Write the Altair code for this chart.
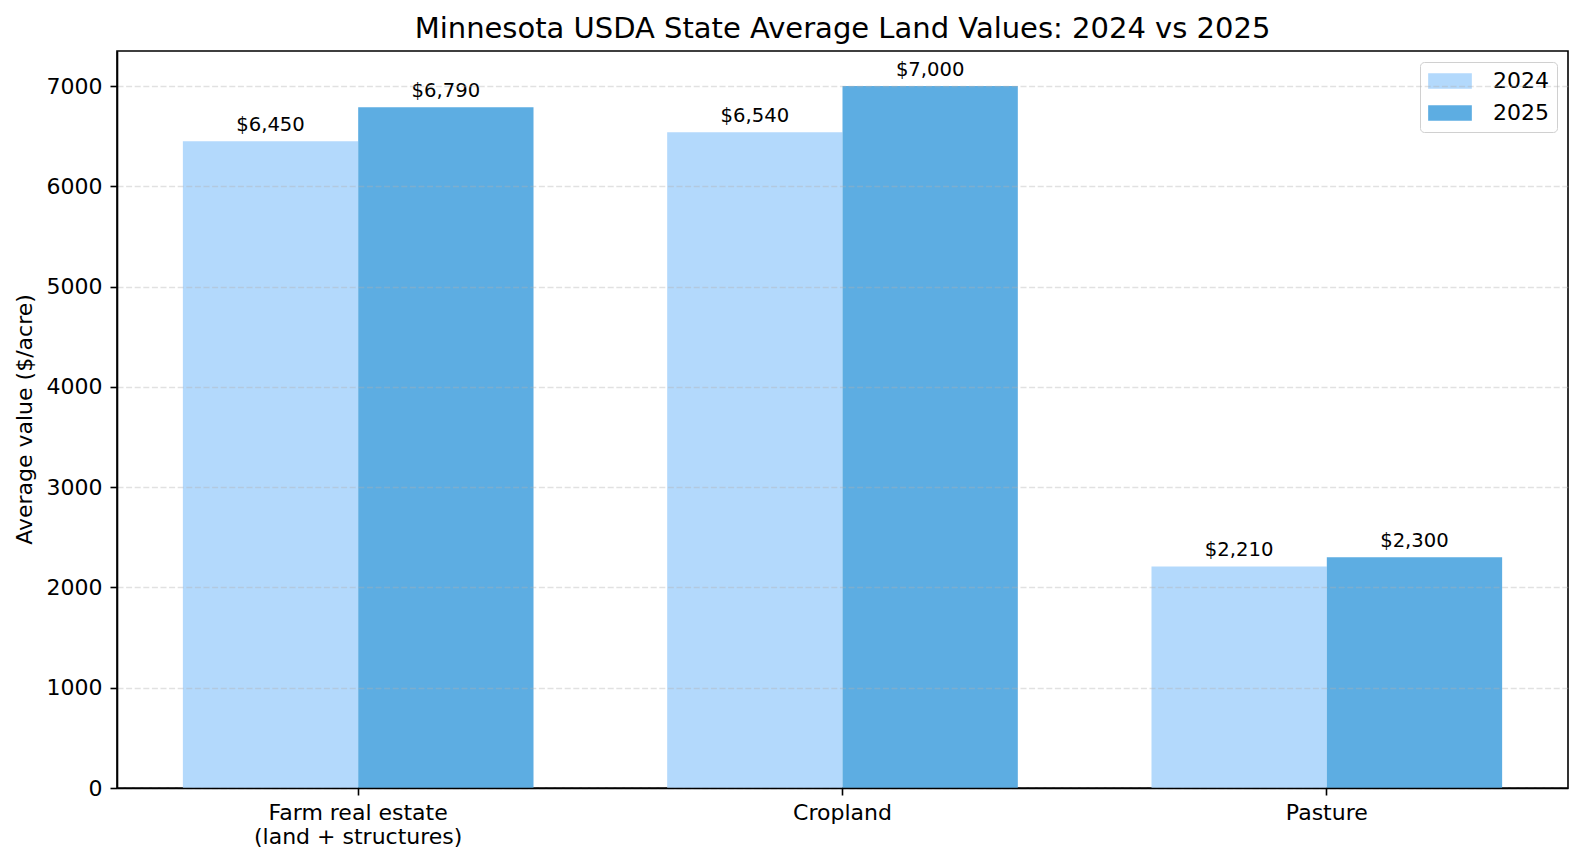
import altair as alt
import pandas as pd

categories = ["Farm real estate\n(land + structures)", "Cropland", "Pasture"]
years = ["2024", "2025"]
values_2024 = [6450, 6540, 2210]
values_2025 = [6790, 7000, 2300]
colors = ["#b3d9fc", "#5dade2"]
y_ticks = [0, 1000, 2000, 3000, 4000, 5000, 6000, 7000]

rows = []
for c, v in zip(categories, values_2024):
    rows.append({"category": c, "year": "2024", "value": v})
for c, v in zip(categories, values_2025):
    rows.append({"category": c, "year": "2025", "value": v})
df = pd.DataFrame(rows)

FONT = "DejaVu Sans"

x_enc = alt.X(
    "category:N",
    sort=categories,
    scale=alt.Scale(paddingInner=0.276, paddingOuter=0.136),
    axis=alt.Axis(
        title=None,
        labelAngle=0,
        labelExpr="split(datum.label, '\\n')",
        labelFontSize=22,
        labelLineHeight=24,
        labelLimit=500,
        labelColor="black",
        labelPadding=7,
        tickSize=7,
        tickWidth=1.6,
        tickColor="black",
        domainColor="black",
        domainWidth=1.6,
        grid=False,
        zindex=1,
    ),
)
xoff_enc = alt.XOffset("year:N", sort=years, scale=alt.Scale(paddingInner=0, paddingOuter=0))
y_enc = alt.Y(
    "value:Q",
    scale=alt.Scale(domain=[0, 7350], nice=False),
    axis=alt.Axis(
        title="Average value ($/acre)",
        titleFontSize=22,
        titleFontWeight="normal",
        titleColor="black",
        titleAngle=270,
        titleX=-93,
        titleY=368,
        titleAlign="center",
        titleBaseline="middle",
        values=y_ticks,
        format="d",
        labelFontSize=22,
        labelColor="black",
        labelPadding=8,
        tickSize=7,
        tickWidth=1.6,
        tickColor="black",
        domainColor="black",
        domainWidth=1.6,
        grid=True,
        gridColor="#b0b0b0",
        gridOpacity=0.38,
        gridWidth=1.6,
        gridDash=[6, 2.6],
        zindex=1,
    ),
)

bars = alt.Chart(df).mark_bar().encode(
    x=x_enc,
    xOffset=xoff_enc,
    y=y_enc,
    color=alt.Color(
        "year:N",
        sort=years,
        scale=alt.Scale(domain=years, range=colors),
        legend=alt.Legend(
            title=None,
            orient="none",
            legendX=1303,
            legendY=11,
            padding=8,
            fillColor="white",
            strokeColor="#d0d0d0",
            cornerRadius=4,
            symbolType="M-2,-0.7L2,-0.7L2,0.7L-2,0.7Z",
            symbolSize=477,
            symbolStrokeWidth=0,
            symbolOffset=11,
            symbolOpacity=1,
            labelOffset=32,
            labelFontSize=22,
            labelColor="black",
            rowPadding=10,
        ),
    ),
)

labels = alt.Chart(df).transform_calculate(
    label="'$' + format(datum.value, ',')"
).mark_text(baseline="alphabetic", dy=-10, fontSize=19.6, color="black", font=FONT).encode(
    x=alt.X("category:N", sort=categories),
    xOffset=alt.XOffset("year:N", sort=years),
    y=alt.Y("value:Q"),
    text="label:N",
)

chart = (
    alt.layer(bars, labels)
    .properties(
        width=1451,
        height=737,
        autosize=alt.AutoSizeParams(type="none"),
        padding={"left": 109, "top": 43, "right": 8, "bottom": 68},
        title=alt.TitleParams(
            "Minnesota USDA State Average Land Values: 2024 vs 2025",
            fontSize=29,
            fontWeight="normal",
            font=FONT,
            color="black",
            anchor="middle",
            baseline="alphabetic",
            offset=14,
            dy=30,
        ),
    )
    .configure(font=FONT)
    .configure_view(stroke="black", strokeWidth=1.6)
)

chart.save("out.html", embed_options={"renderer": "svg", "actions": False})
